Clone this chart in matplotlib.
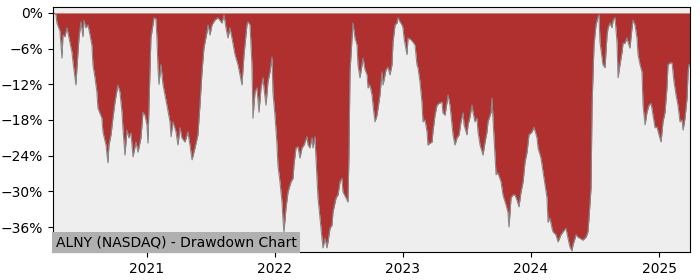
import numpy as np
import pandas as pd
import matplotlib
matplotlib.use('Agg')
import matplotlib.pyplot as plt
import matplotlib.dates as mdates
from matplotlib.ticker import PercentFormatter

# time as decimal years, drawdown in percent
t = [2020.266, 2020.273, 2020.289, 2020.297, 2020.320, 2020.336, 2020.344, 2020.359, 2020.375, 2020.391,
     2020.414, 2020.422, 2020.445, 2020.453, 2020.469, 2020.484, 2020.500, 2020.508, 2020.523, 2020.539,
     2020.555, 2020.570, 2020.578, 2020.594, 2020.609, 2020.617, 2020.648, 2020.656, 2020.680, 2020.695,
     2020.703, 2020.719, 2020.734, 2020.750, 2020.773, 2020.789, 2020.805, 2020.812, 2020.828, 2020.844,
     2020.859, 2020.875, 2020.891, 2020.914, 2020.930, 2020.953, 2020.969, 2020.984, 2021.000, 2021.008,
     2021.016, 2021.031, 2021.047, 2021.055, 2021.070, 2021.078, 2021.086, 2021.094, 2021.109, 2021.125,
     2021.156, 2021.180, 2021.188, 2021.203, 2021.227, 2021.242, 2021.258, 2021.273, 2021.297, 2021.320,
     2021.336, 2021.352, 2021.375, 2021.398, 2021.414, 2021.430, 2021.445, 2021.469, 2021.477, 2021.492,
     2021.508, 2021.531, 2021.555, 2021.586, 2021.602, 2021.617, 2021.633, 2021.648, 2021.664, 2021.688,
     2021.711, 2021.727, 2021.742, 2021.758, 2021.781, 2021.789, 2021.805, 2021.820, 2021.828, 2021.844,
     2021.859, 2021.875, 2021.891, 2021.906, 2021.914, 2021.930, 2021.945, 2021.961, 2021.977, 2021.984,
     2022.000, 2022.016, 2022.023, 2022.039, 2022.055, 2022.062, 2022.070, 2022.086, 2022.102, 2022.125,
     2022.141, 2022.148, 2022.164, 2022.180, 2022.195, 2022.211, 2022.227, 2022.250, 2022.258, 2022.273,
     2022.289, 2022.297, 2022.312, 2022.328, 2022.336, 2022.352, 2022.367, 2022.375, 2022.391, 2022.406,
     2022.414, 2022.430, 2022.445, 2022.453, 2022.477, 2022.492, 2022.508, 2022.523, 2022.531, 2022.555,
     2022.570, 2022.578, 2022.586, 2022.602, 2022.609, 2022.625, 2022.641, 2022.648, 2022.664, 2022.680,
     2022.688, 2022.703, 2022.719, 2022.727, 2022.742, 2022.758, 2022.766, 2022.781, 2022.797, 2022.805,
     2022.820, 2022.836, 2022.844, 2022.867, 2022.883, 2022.898, 2022.914, 2022.922, 2022.938, 2022.953,
     2022.961, 2022.977, 2022.992, 2023.000, 2023.008, 2023.031, 2023.039, 2023.062, 2023.078, 2023.094,
     2023.109, 2023.117, 2023.133, 2023.148, 2023.156, 2023.172, 2023.188, 2023.195, 2023.211, 2023.227,
     2023.234, 2023.250, 2023.266, 2023.281, 2023.305, 2023.312, 2023.328, 2023.344, 2023.352, 2023.367,
     2023.383, 2023.391, 2023.406, 2023.422, 2023.438, 2023.453, 2023.469, 2023.477, 2023.500, 2023.508,
     2023.523, 2023.539, 2023.547, 2023.562, 2023.578, 2023.586, 2023.602, 2023.625, 2023.641, 2023.656,
     2023.664, 2023.688, 2023.695, 2023.711, 2023.727, 2023.742, 2023.766, 2023.781, 2023.805, 2023.820,
     2023.828, 2023.844, 2023.859, 2023.875, 2023.891, 2023.906, 2023.922, 2023.938, 2023.953, 2023.969,
     2023.984, 2024.008, 2024.023, 2024.047, 2024.055, 2024.078, 2024.094, 2024.109, 2024.125, 2024.133,
     2024.148, 2024.164, 2024.172, 2024.195, 2024.211, 2024.234, 2024.250, 2024.273, 2024.289, 2024.305,
     2024.320, 2024.328, 2024.352, 2024.367, 2024.383, 2024.406, 2024.430, 2024.445, 2024.453, 2024.469,
     2024.477, 2024.492, 2024.508, 2024.523, 2024.531, 2024.539, 2024.555, 2024.562, 2024.578, 2024.594,
     2024.602, 2024.617, 2024.633, 2024.641, 2024.656, 2024.672, 2024.680, 2024.695, 2024.711, 2024.719,
     2024.734, 2024.750, 2024.758, 2024.773, 2024.789, 2024.797, 2024.812, 2024.828, 2024.836, 2024.852,
     2024.867, 2024.875, 2024.891, 2024.906, 2024.922, 2024.938, 2024.953, 2024.969, 2024.984, 2025.000,
     2025.016, 2025.031, 2025.047, 2025.062, 2025.070, 2025.086, 2025.102, 2025.117, 2025.133, 2025.148,
     2025.164, 2025.180, 2025.188, 2025.203, 2025.219, 2025.227, 2025.234, 2025.242]

drawdown = [0.0, 0.0, -0.3, -1.7, -3.0, -7.6, -3.7, -4.0, -2.5, -4.2,
            -6.6, -8.2, -12.1, -9.2, -4.2, -1.5, -4.0, -1.2, -2.5, -2.0,
            -3.7, -5.4, -8.7, -10.9, -13.3, -16.0, -17.7, -20.0, -22.2, -25.2,
            -22.2, -20.5, -17.7, -15.0, -12.1, -13.3, -16.7, -19.3, -23.9, -19.7,
            -21.0, -20.2, -24.2, -21.7, -23.4, -21.0, -16.7, -17.2, -18.8, -21.9,
            -15.5, -4.2, -2.0, -0.8, -1.0, -4.2, -9.2, -12.0, -8.7, -12.0,
            -15.5, -18.3, -20.8, -18.3, -20.0, -22.2, -19.3, -21.0, -21.7, -20.0,
            -22.2, -24.7, -22.7, -20.5, -15.5, -9.9, -5.9, -3.2, -2.0, -3.7,
            -2.0, -1.2, -0.8, -1.7, -0.3, -2.5, -4.2, -2.5, -4.2, -7.0,
            -8.7, -10.4, -12.1, -7.0, -2.0, -1.5, -2.0, -8.7, -17.7, -13.3,
            -12.6, -16.7, -12.6, -10.9, -12.6, -15.5, -11.6, -9.9, -7.4, -13.3,
            -17.2, -22.2, -25.6, -28.4, -31.8, -34.5, -36.8, -32.8, -30.1, -28.4,
            -27.8, -25.6, -22.7, -22.5, -24.4, -22.7, -22.2, -20.8, -22.2, -22.7,
            -21.0, -22.7, -20.8, -27.8, -31.1, -34.5, -37.9, -39.5, -37.9, -39.5,
            -38.5, -36.2, -35.7, -33.5, -31.1, -30.6, -28.4, -27.8, -30.1, -31.1,
            -31.8, -23.9, -9.9, -4.2, -1.7, -4.2, -5.4, -8.7, -10.9, -8.7,
            -7.6, -9.5, -10.4, -12.6, -12.1, -13.8, -15.5, -18.3, -17.2, -16.0,
            -13.8, -9.9, -12.1, -9.6, -9.1, -10.4, -8.7, -4.9, -2.0, -1.7,
            -0.8, -1.5, -2.0, -2.5, -4.2, -7.0, -4.2, -4.5, -4.9, -5.4,
            -8.7, -9.2, -11.6, -15.0, -18.3, -18.0, -20.0, -22.2, -21.9, -21.7,
            -20.0, -17.2, -15.5, -15.2, -15.0, -16.8, -17.2, -15.0, -13.8, -15.5,
            -18.8, -20.5, -22.2, -21.0, -20.5, -18.3, -16.8, -18.8, -20.5, -18.8,
            -17.5, -15.5, -16.7, -18.3, -17.7, -20.0, -22.2, -23.9, -21.7, -20.0,
            -18.3, -16.7, -14.3, -21.0, -27.2, -26.9, -28.4, -30.6, -32.3, -33.5,
            -36.0, -31.1, -30.6, -30.6, -31.5, -32.6, -30.1, -28.4, -25.1, -23.4,
            -20.5, -20.0, -19.2, -21.0, -22.7, -24.4, -26.7, -28.9, -31.1, -35.2,
            -34.5, -36.2, -36.8, -37.3, -38.5, -37.3, -36.8, -36.2, -37.9, -39.4,
            -40.0, -39.0, -37.3, -37.7, -37.9, -38.2, -37.7, -36.8, -34.5, -29.4,
            -15.5, -5.4, -2.0, -0.7, -0.3, -4.9, -7.6, -8.7, -9.2, -3.7,
            -2.5, -1.7, -2.5, -1.2, -0.8, -4.9, -10.9, -8.7, -6.6, -5.1,
            -5.1, -4.2, -4.9, -5.9, -2.5, -1.2, -2.0, -4.2, -7.0, -8.7,
            -9.9, -15.5, -18.8, -16.7, -15.5, -15.2, -17.2, -19.3, -19.2, -20.5,
            -21.7, -18.3, -16.7, -12.6, -8.7, -8.4, -8.4, -11.6, -13.8, -15.5,
            -18.3, -18.0, -19.7, -17.7, -14.3, -9.9, -8.7, -8.7]

title = 'ALNY (NASDAQ) - Drawdown Chart'
yticks = [0, -6, -12, -18, -24, -30, -36]

dates = pd.Timestamp('2021-01-01') + pd.to_timedelta((np.array(t) - 2021) * 365.25, unit='D')
dd = np.array(drawdown)

fig = plt.figure(figsize=(7, 2.8), dpi=100)
ax = fig.add_axes([0.0757, 0.1, 0.91, 0.875])
ax.set_facecolor('#eeeeee')

ax.fill_between(dates, dd, 0, color='#b03030', linewidth=0)
ax.plot(dates, dd, color='#888888', lw=0.8)

ax.set_xlim(dates[0], dates[-1])
ax.set_ylim(-40.2, 1.0)
ax.set_yticks(yticks)
ax.yaxis.set_major_formatter(PercentFormatter(xmax=100, decimals=0))
ax.xaxis.set_major_locator(mdates.YearLocator())
ax.xaxis.set_major_formatter(mdates.DateFormatter('%Y'))

ax.text(0.004, 0.012, title, transform=ax.transAxes, fontsize=10,
        ha='left', va='bottom',
        bbox=dict(facecolor='#b0b0b0', edgecolor='none', pad=2.5))

fig.savefig('out.png')
